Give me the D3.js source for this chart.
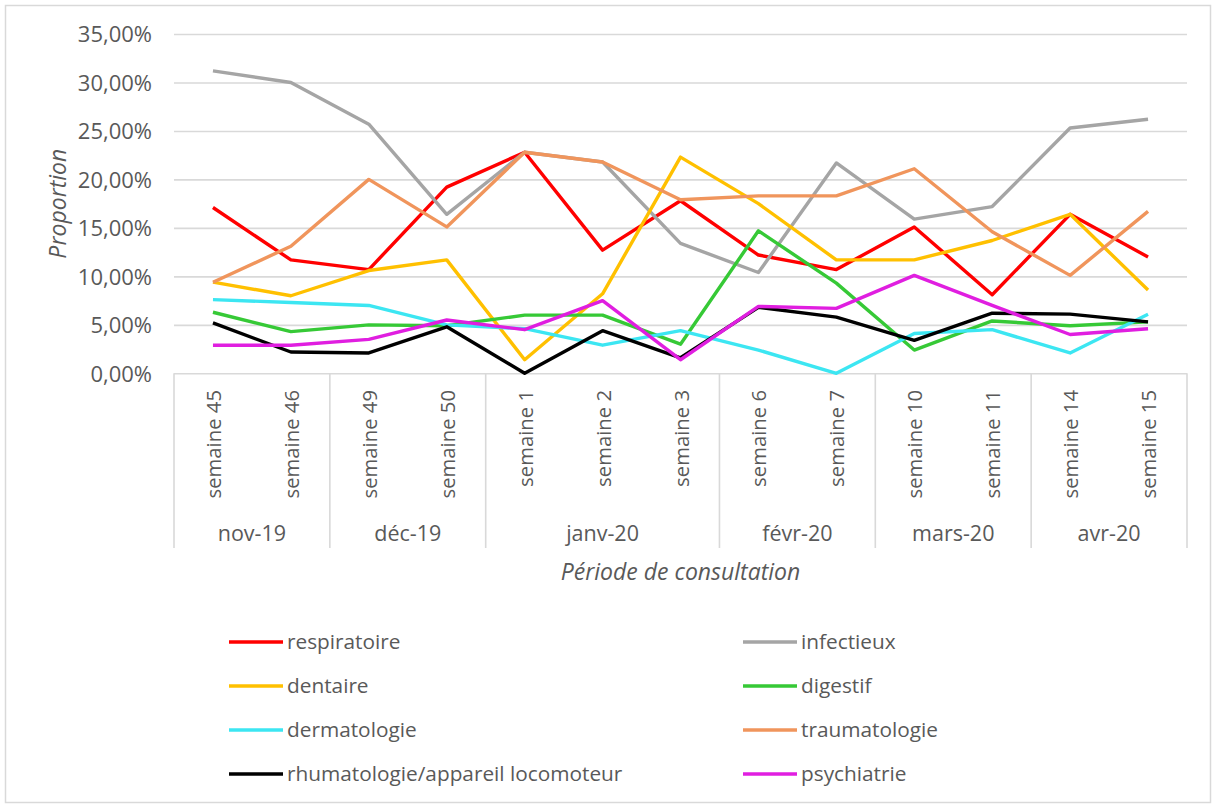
<!DOCTYPE html>
<html>
<head>
<meta charset="utf-8">
<script src="https://cdn.jsdelivr.net/npm/d3@7"></script>
<style>
    html, body { margin: 0; padding: 0; background: #fff; }
    svg text { font-family: "Open Sans", "DejaVu Sans", sans-serif; fill: #595959; }
</style>
</head>
<body>
<script>
(function(window){
    'use strict'

    // categories
    var weeks = ["semaine 45", "semaine 46", "semaine 49", "semaine 50", "semaine 1", "semaine 2",
                 "semaine 3", "semaine 6", "semaine 7", "semaine 10", "semaine 11", "semaine 14", "semaine 15"];
    var monthLabels = ["nov-19", "déc-19", "janv-20", "févr-20", "mars-20", "avr-20"];
    var monthSpans = [2, 2, 3, 2, 2, 2];
    var yTicks = [0, 5, 10, 15, 20, 25, 30, 35];

    // series values (%)
    var respiratoire  = [17.1, 11.7, 10.7, 19.2, 22.8, 12.7, 17.8, 12.2, 10.7, 15.1, 8.1, 16.4, 12.0];
    var infectieux    = [31.2, 30.0, 25.7, 16.4, 22.8, 21.8, 13.4, 10.4, 21.7, 15.9, 17.2, 25.3, 26.2];
    var dentaire      = [9.4, 8.0, 10.6, 11.7, 1.4, 8.2, 22.3, 17.5, 11.7, 11.7, 13.7, 16.4, 8.6];
    var digestif      = [6.3, 4.3, 5.0, 4.9, 6.0, 6.0, 3.0, 14.7, 9.3, 2.4, 5.4, 4.9, 5.3];
    var dermatologie  = [7.6, 7.3, 7.0, 5.0, 4.6, 2.9, 4.4, 2.4, 0.0, 4.1, 4.5, 2.1, 6.1];
    var traumatologie = [9.4, 13.1, 20.0, 15.1, 22.8, 21.8, 17.9, 18.3, 18.3, 21.1, 14.6, 10.1, 16.7];
    var rhumatologie  = [5.2, 2.2, 2.1, 4.8, 0.0, 4.4, 1.6, 6.8, 5.8, 3.4, 6.2, 6.1, 5.3];
    var psychiatrie   = [2.9, 2.9, 3.5, 5.5, 4.5, 7.5, 1.4, 6.9, 6.7, 10.1, 7.0, 4.0, 4.6];

    var seriesNames = ["respiratoire", "infectieux", "dentaire", "digestif",
                       "dermatologie", "traumatologie", "rhumatologie/appareil locomoteur", "psychiatrie"];
    var seriesValues = [respiratoire, infectieux, dentaire, digestif,
                        dermatologie, traumatologie, rhumatologie, psychiatrie];
    var seriesColors = ["#ff0000", "#a5a5a5", "#ffc000", "#36c936",
                        "#3ce6f2", "#f0955c", "#000000", "#e01ee0"];

    var W = 1215, H = 807;
    var plot = {left: 174, right: 1187, top: 34, bottom: 373.3};
    var axisBottom = 548;
    var gridColor = "#d9d9d9";

    var svg = d3.select("body").append("svg")
        .attr("width", W)
        .attr("height", H);

    svg.append("rect")
        .attr("x", 5.5).attr("y", 5.5)
        .attr("width", W - 10).attr("height", H - 10)
        .attr("fill", "#fff")
        .attr("stroke", gridColor)
        .attr("stroke-width", 1.5);

    var x = d3.scaleBand().domain(weeks).range([plot.left, plot.right]).padding(0);
    var y = d3.scaleLinear().domain([0, 35]).range([plot.bottom, plot.top]);

    var fr = d3.formatLocale({decimal: ",", thousands: " ", grouping: [3], currency: ["", "€"]});
    var fmt = fr.format(".2f");

    // gridlines + y axis labels
    var yAxis = d3.axisLeft(y)
        .tickValues(yTicks)
        .tickSize(-(plot.right - plot.left))
        .tickPadding(22)
        .tickFormat(function(d) { return fmt(d) + "%"; });

    var gy = svg.append("g")
        .attr("transform", "translate(" + plot.left + ",0)")
        .call(yAxis);
    gy.select(".domain").remove();
    gy.selectAll(".tick line").attr("stroke", gridColor).attr("stroke-width", 1.6);
    gy.selectAll(".tick text")
        .attr("font-size", 22)
        .attr("dy", "0.36em")
        .style("fill", "#595959");

    // category axis: week labels rotated, month groups
    var gx = svg.append("g");
    gx.selectAll("text.week")
        .data(weeks)
        .enter().append("text")
        .attr("class", "week")
        .attr("transform", function(d) {
            return "translate(" + (x(d) + x.bandwidth() / 2 + 8) + "," + 390 + ") rotate(-90)";
        })
        .attr("text-anchor", "end")
        .attr("font-size", 20.3)
        .text(function(d) { return d; });

    var bounds = [0], acc = 0, i;
    for (i = 0; i < monthSpans.length; i++) {
        acc += monthSpans[i];
        bounds.push(acc);
    }
    var bx = function(idx) { return idx < weeks.length ? x(weeks[idx]) : plot.right; };

    gx.selectAll("line.sep")
        .data(bounds)
        .enter().append("line")
        .attr("class", "sep")
        .attr("x1", function(d) { return bx(d); })
        .attr("x2", function(d) { return bx(d); })
        .attr("y1", plot.bottom)
        .attr("y2", axisBottom)
        .attr("stroke", gridColor)
        .attr("stroke-width", 1.6);

    gx.selectAll("text.month")
        .data(monthLabels)
        .enter().append("text")
        .attr("class", "month")
        .attr("x", function(d, k) { return (bx(bounds[k]) + bx(bounds[k + 1])) / 2; })
        .attr("y", 541)
        .attr("text-anchor", "middle")
        .attr("font-size", 21.5)
        .text(function(d) { return d; });

    // axis titles
    svg.append("text")
        .attr("transform", "translate(66," + ((plot.top + plot.bottom) / 2) + ") rotate(-90)")
        .attr("text-anchor", "middle")
        .attr("font-size", 23)
        .attr("font-style", "italic")
        .text("Proportion");

    svg.append("text")
        .attr("x", (plot.left + plot.right) / 2)
        .attr("y", 580)
        .attr("text-anchor", "middle")
        .attr("font-size", 23)
        .attr("font-style", "italic")
        .text("Période de consultation");

    // lines
    var line = d3.line()
        .x(function(d, k) { return x(weeks[k]) + x.bandwidth() / 2; })
        .y(function(d) { return y(d); });

    svg.append("g").selectAll("path")
        .data(seriesValues)
        .enter().append("path")
        .attr("d", function(d) { return line(d); })
        .attr("fill", "none")
        .attr("stroke", function(d, k) { return seriesColors[k]; })
        .attr("stroke-width", 3.4)
        .attr("stroke-linejoin", "round");

    // legend, two columns
    var legX = [229, 743], legY = [642, 686, 730, 774];
    var leg = svg.append("g").selectAll("g")
        .data(seriesNames)
        .enter().append("g")
        .attr("transform", function(d, k) {
            return "translate(" + legX[k % 2] + "," + legY[Math.floor(k / 2)] + ")";
        });
    leg.append("line")
        .attr("x1", 0).attr("x2", 54)
        .attr("stroke", function(d, k) { return seriesColors[k]; })
        .attr("stroke-width", 3.4);
    leg.append("text")
        .attr("x", 58)
        .attr("dy", "0.35em")
        .attr("font-size", 20.8)
        .text(function(d) { return d; });

})(window);
</script>
</body>
</html>
